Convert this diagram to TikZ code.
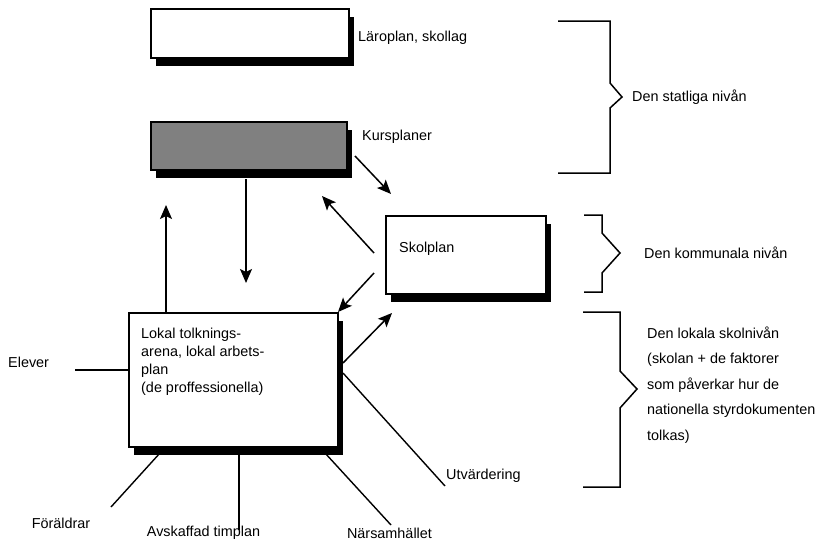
\documentclass[tikz,border=0pt]{standalone}
\usepackage{fontspec}
\setmainfont{Liberation Sans}
\usepackage{xcolor}
\usepackage{tikz}
\usetikzlibrary{arrows.meta,positioning,shadows}
\definecolor{plgrey}{HTML}{808080}
\tikzset{
  pl/.style  = {rectangle, draw=black, line width=1.1pt, fill=white,
                inner sep=0pt, outer sep=0pt,
                drop shadow={shadow xshift=4.5pt, shadow yshift=-8pt,
                             fill=black, opacity=1}},
  txt/.style = {font=\fontsize{14.4}{18}\selectfont, inner sep=0pt,
                align=left, anchor=west},
  ed/.style  = {-{Stealth[length=14pt,width=12pt,inset=3pt]},
                draw=black, line width=1.5pt},
  ln/.style  = {draw=black, line width=1.4pt},
  brk/.style = {draw=black, line width=1.5pt, line join=miter},
}

\begin{document}
\begin{tikzpicture}[x=1pt,y=-1pt]
  \useasboundingbox (0,0) rectangle (819,541);
  % boxes
  \node[pl, minimum width=198pt, minimum height=49pt] (lp) at (250,33.5) {};
  \node[pl, fill=plgrey, minimum width=196pt, minimum height=48pt] (kp) at (249,146) {};
  \node[pl, minimum width=160pt, minimum height=78pt] (sp) at (466,255) {};
  \node[pl, minimum width=209pt, minimum height=134pt] (loc) at (233.5,380) {};
  % texts
  \node[txt] (lptxt)  at (358,38)  {Läroplan, skollag};
  \node[txt] (kptxt)  at (362,137) {Kursplaner};
  \node[txt] (sptxt)  at (399,249) {Skolplan};
  \node[txt] (loctxt) at (141,362)
    {Lokal tolknings-\\arena, lokal arbets-\\plan\\(de proffessionella)};
  \node[txt] (elev)   at (8,362)   {Elever};
  \node[txt, anchor=center] (foral) at (61,523)    {Föräldrar};
  \node[txt, anchor=center] (timpl) at (203.5,533) {Avskaffad timplan};
  \node[txt, anchor=center] (nars)  at (389.5,533) {Närsamhället};
  \node[txt] (utv)    at (446,476) {Utvärdering};
  % arrow ends
  \coordinate (a1) at (355,156);  \coordinate (a2) at (391,194);
  \coordinate (b1) at (374,253);  \coordinate (b2) at (322,196);
  \coordinate (c1) at (374,273);  \coordinate (c2) at (338,312);
  \coordinate (d1) at (343,363);  \coordinate (d2) at (392,313);
  \coordinate (e1) at (246,179);  \coordinate (e2) at (246,283);
  \coordinate (f1) at (166,313);  \coordinate (f2) at (166,205);
  \draw[ed] (a1) -- (a2);
  \draw[ed] (b1) -- (b2);
  \draw[ed] (c1) -- (c2);
  \draw[ed] (d1) -- (d2);
  \draw[ed] (e1) -- (e2);
  \draw[ed] (f1) -- (f2);
  % factor lines
  \coordinate (g1) at (75,370);   \coordinate (g2) at (129,370);
  \coordinate (h1) at (160,453);  \coordinate (h2) at (111,507);
  \coordinate (i1) at (239,453);  \coordinate (i2) at (239,530);
  \coordinate (j1) at (325,453);  \coordinate (j2) at (391,525);
  \coordinate (k1) at (343,373);  \coordinate (k2) at (445,486);
  \draw[ln] (g1) -- (g2);
  \draw[ln] (h1) -- (h2);
  \draw[ln] (i1) -- (i2);
  \draw[ln] (j1) -- (j2);
  \draw[ln] (k1) -- (k2);
  % brackets
  \draw[brk] (558,21) -- (610,21) -- (610,83) -- (622,97) -- (610,108)
             -- (610,173) -- (558,173);
  \draw[brk] (584,215) -- (602,215) -- (602,233) -- (620,253) -- (602,273)
             -- (602,292) -- (584,292);
  \draw[brk] (583,312) -- (620,312) -- (620,371) -- (637,389) -- (620,408)
             -- (620,487) -- (583,487);
  \node[txt] (stat) at (632,97)  {Den statliga nivån};
  \node[txt] (komm) at (644,253) {Den kommunala nivån};
  \node[txt, font=\fontsize{14.4}{25.5}\selectfont] (lok) at (647,385)
    {Den lokala skolnivån\\(skolan + de faktorer\\som påverkar hur de\\nationella styrdokumenten\\tolkas)};
\end{tikzpicture}
\end{document}
